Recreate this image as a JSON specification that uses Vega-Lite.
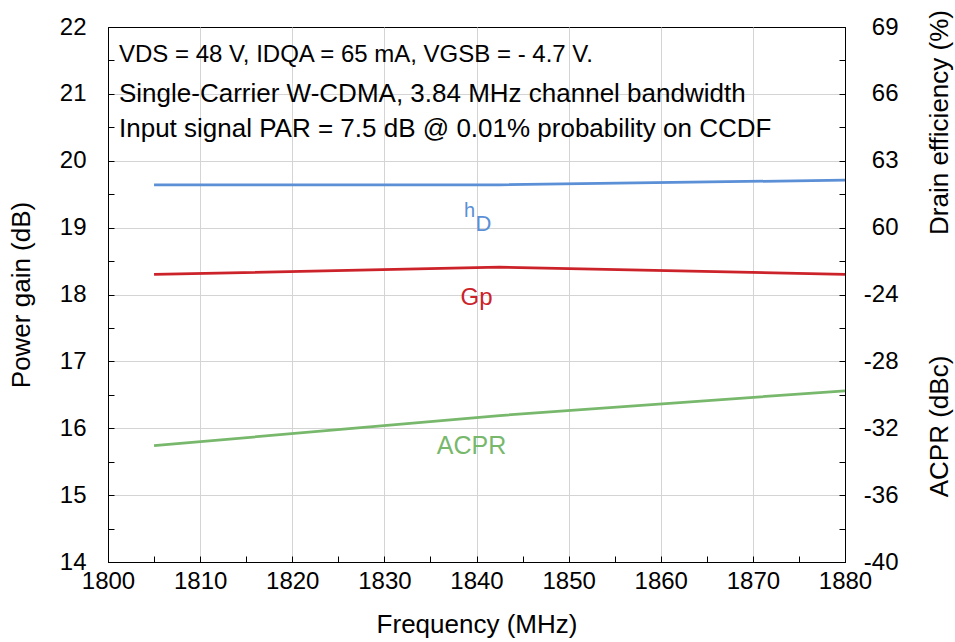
{
  "$schema": "https://vega.github.io/schema/vega-lite/v6.json",
  "width": 737,
  "height": 535,
  "autosize": {"type": "none"},
  "padding": {"left": 108, "top": 27, "right": 110, "bottom": 80},
  "background": "white",
  "config": {
    "font": "Liberation Sans",
    "view": {"stroke": "black", "strokeWidth": 1},
    "axis": {
      "domainColor": "black",
      "tickColor": "black",
      "labelColor": "black",
      "labelFontSize": 24,
      "titleColor": "black",
      "titleFontSize": 26,
      "titleFontWeight": "normal",
      "labelFlush": false,
      "labelOverlap": false,
      "labelBound": false
    }
  },
  "title": {
    "text": "VDS = 48 V, IDQA = 65 mA, VGSB = - 4.7 V.",
    "subtitle": ["Single-Carrier W-CDMA, 3.84 MHz channel bandwidth", "Input signal PAR = 7.5 dB @ 0.01% probability on CCDF"],
    "orient": "top",
    "anchor": "start",
    "frame": "group",
    "offset": -132,
    "dx": 11,
    "fontSize": 24,
    "fontWeight": "normal",
    "color": "black",
    "subtitleFontSize": 26,
    "subtitleColor": "black",
    "subtitleLineHeight": 34.5,
    "subtitlePadding": 14.3
  },
  "data": {
    "values": [
      {"freq": 1805, "gp": 18.30, "eff": 61.92, "acpr": -33.04},
      {"freq": 1842.5, "gp": 18.41, "eff": 61.92, "acpr": -31.24},
      {"freq": 1880, "gp": 18.30, "eff": 62.13, "acpr": -29.76}
    ]
  },
  "encoding": {
    "x": {
      "field": "freq",
      "type": "quantitative",
      "scale": {"domain": [1800, 1880], "nice": false, "zero": false},
      "axis": {
        "values": [1800, 1805, 1810, 1815, 1820, 1825, 1830, 1835, 1840, 1845, 1850, 1855, 1860, 1865, 1870, 1875, 1880],
        "labelExpr": "datum.value % 10 === 0 ? '' + datum.value : ''",
        "grid": true,
        "gridColor": "#d4d4d4",
        "gridOpacity": {"condition": {"test": "datum.value % 10 !== 0 || datum.value == 1800 || datum.value == 1880", "value": 0}, "value": 1},
        "tickSize": -6,
        "labelPadding": 13,
        "title": "Frequency (MHz)",
        "titleX": 368.5,
        "titleY": 62,
        "titleBaseline": "middle"
      }
    }
  },
  "layer": [
    {
      "encoding": {
        "y": {
          "field": "gp",
          "type": "quantitative",
          "scale": {"domain": [14, 22], "nice": false, "zero": false},
          "axis": {
            "orient": "left",
            "values": [14, 14.5, 15, 15.5, 16, 16.5, 17, 17.5, 18, 18.5, 19, 19.5, 20, 20.5, 21, 21.5, 22],
            "labelExpr": "datum.value % 1 === 0 ? '' + datum.value : ''",
            "grid": true,
            "gridColor": "#d4d4d4",
            "gridOpacity": {"condition": {"test": "datum.value % 1 !== 0 || datum.value == 14 || datum.value == 22", "value": 0}, "value": 1},
            "tickSize": -6,
            "labelPadding": 28,
            "title": "Power gain (dB)",
            "titleX": -87,
            "titleY": 267.5,
            "titleAngle": -90,
            "titleBaseline": "middle",
            "titleAlign": "center"
          }
        }
      },
      "layer": [
        {"mark": {"type": "line", "color": "#cc2229", "strokeWidth": 2.75}},
        {
          "transform": [{"filter": "datum.freq == 1842.5"}],
          "mark": {"type": "text", "text": "Gp", "color": "#cc2229", "fontSize": 24, "baseline": "alphabetic", "align": "center", "dx": -23, "dy": 38}
        }
      ]
    },
    {
      "encoding": {
        "y": {
          "field": "eff",
          "type": "quantitative",
          "scale": {"domain": [45, 69], "nice": false, "zero": false},
          "axis": {
            "orient": "right",
            "values": [58.5, 60, 61.5, 63, 64.5, 66, 67.5, 69],
            "labelExpr": "datum.value % 3 === 0 ? '' + datum.value : ''",
            "grid": false,
            "tickSize": -6,
            "labelAlign": "right",
            "labelPadding": 59,
            "title": "Drain efficiency (%)",
            "titleX": 94,
            "titleY": 95,
            "titleAngle": -90,
            "titleBaseline": "middle",
            "titleAlign": "center"
          }
        }
      },
      "layer": [
        {"mark": {"type": "line", "color": "#5b8fd6", "strokeWidth": 2.75}},
        {
          "transform": [{"filter": "datum.freq == 1842.5"}],
          "mark": {"type": "text", "text": "h", "color": "#5b8fd6", "fontSize": 20, "baseline": "alphabetic", "align": "center", "dx": -30, "dy": 32}
        },
        {
          "transform": [{"filter": "datum.freq == 1842.5"}],
          "mark": {"type": "text", "text": "D", "color": "#5b8fd6", "fontSize": 22, "baseline": "alphabetic", "align": "center", "dx": -16, "dy": 46}
        }
      ]
    },
    {
      "encoding": {
        "y": {
          "field": "acpr",
          "type": "quantitative",
          "scale": {"domain": [-40, -8], "nice": false, "zero": false},
          "axis": {
            "orient": "right",
            "values": [-40, -38, -36, -34, -32, -30, -28, -26, -24],
            "labelExpr": "datum.value % 4 === 0 ? '' + datum.value : ''",
            "grid": false,
            "tickSize": -6,
            "labelAlign": "right",
            "labelPadding": 59,
            "title": "ACPR (dBc)",
            "titleX": 94,
            "titleY": 399,
            "titleAngle": -90,
            "titleBaseline": "middle",
            "titleAlign": "center"
          }
        }
      },
      "layer": [
        {"mark": {"type": "line", "color": "#78b86c", "strokeWidth": 2.75}},
        {
          "transform": [{"filter": "datum.freq == 1842.5"}],
          "mark": {"type": "text", "text": "ACPR", "color": "#78b86c", "fontSize": 25, "baseline": "alphabetic", "align": "center", "dx": -28, "dy": 38.5}
        }
      ]
    }
  ],
  "resolve": {"scale": {"y": "independent"}}
}
